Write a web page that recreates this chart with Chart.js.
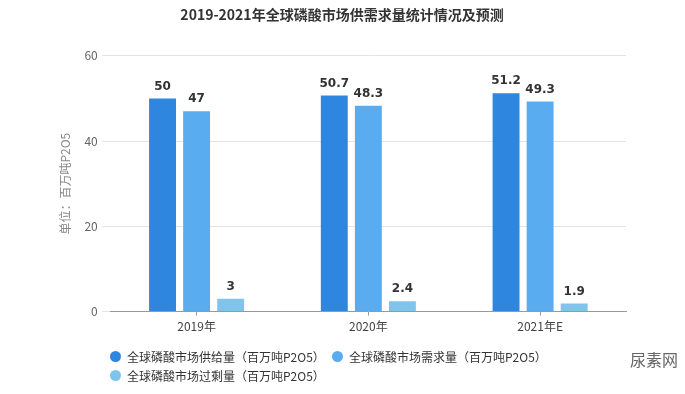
<!DOCTYPE html>
<html>
<head>
<meta charset="utf-8">
<script src="https://cdn.jsdelivr.net/npm/chart.js@4.4.0/dist/chart.umd.min.js"></script>
<style>
  body { margin: 0; background: #fff; }
  #wrap { position: relative; width: 685px; height: 394px; }
  #legend { position: absolute; left: 110px; top: 348px; font: 12px "Noto Sans CJK SC", sans-serif; color: #333; }
  .item { position: absolute; white-space: nowrap; }
  .dot { position: absolute; width: 11px; height: 11px; border-radius: 50%; left: 0; top: 3px; }
  .txt { position: absolute; left: 17px; top: 0; }
  #mark { position: absolute; left: 630px; top: 347px; font: 16px "Noto Sans CJK SC", sans-serif; color: #666; }
</style>
</head>
<body>
<div id="wrap">
  <canvas id="chart" width="685" height="394"></canvas>
  <div id="legend"></div>
  <div id="mark">尿素网</div>
</div>
<script>
const years = ['2019年', '2020年', '2021年E'];
const supply = [50, 50.7, 51.2];
const demand = [47, 48.3, 49.3];
const surplus = [3, 2.4, 1.9];
const seriesNames = ['全球磷酸市场供给量（百万吨P2O5）', '全球磷酸市场需求量（百万吨P2O5）', '全球磷酸市场过剩量（百万吨P2O5）'];
const colors = ['#2e86de', '#5aacf0', '#7fc4ea'];

const ctx = document.getElementById('chart');

// value labels above each bar
const barLabels = {
  id: 'barLabels',
  afterDatasetsDraw(chart) {
    const c = chart.ctx;
    c.save();
    c.font = 'bold 12px "DejaVu Sans", sans-serif';
    c.fillStyle = '#333';
    c.textAlign = 'center';
    c.textBaseline = 'bottom';
    chart.data.datasets.forEach((ds, i) => {
      chart.getDatasetMeta(i).data.forEach((bar, j) => {
        c.fillText(String(ds.data[j]), bar.x, bar.y - 6);
      });
    });
    c.restore();
  }
};

const config = {
  type: 'bar',
  data: {
    labels: years,
    datasets: [
      { label: seriesNames[0], data: supply, backgroundColor: colors[0] },
      { label: seriesNames[1], data: demand, backgroundColor: colors[1] },
      { label: seriesNames[2], data: surplus, backgroundColor: colors[2] }
    ]
  },
  options: {
    responsive: false,
    animation: false,
    categoryPercentage: 0.595,
    barPercentage: 0.79,
    layout: { padding: { left: 58, right: 59, top: 0, bottom: 56 } },
    plugins: {
      legend: { display: false },
      tooltip: { enabled: false },
      title: {
        display: true,
        text: '2019-2021年全球磷酸市场供需求量统计情况及预测',
        color: '#333',
        font: { size: 14, weight: 'bold', family: '"Noto Sans CJK SC", sans-serif' },
        padding: { top: 6, bottom: 33 }
      }
    },
    scales: {
      y: {
        min: 0,
        max: 60,
        ticks: { stepSize: 20, color: '#666', padding: 4, font: { size: 12 } },
        grid: { color: '#e3e3e3', tickLength: 9 },
        border: { display: false },
        title: {
          display: true,
          text: '单位：百万吨P2O5',
          color: '#888',
          font: { size: 12, family: '"Noto Sans CJK SC", sans-serif' },
          padding: { top: 0, bottom: 8 }
        }
      },
      x: {
        ticks: { color: '#444', padding: 4, font: { size: 12, family: '"Noto Sans CJK SC", sans-serif' } },
        grid: { drawOnChartArea: false, offset: false, tickLength: 4, color: '#999' },
        border: { color: '#999' }
      }
    }
  },
  plugins: [barLabels]
};

Chart.defaults.font.family = '"Noto Sans CJK SC", sans-serif';
const chart = new Chart(ctx, config);

// html legend in the reference's layout: two items on the first row, one below
const spots = [[0, 0], [222, 0], [0, 19]];
const legend = document.getElementById('legend');
seriesNames.forEach((name, i) => {
  const el = document.createElement('div');
  el.className = 'item';
  el.style.left = spots[i][0] + 'px';
  el.style.top = spots[i][1] + 'px';
  el.innerHTML = '<span class="dot" style="background:' + colors[i] + '"></span><span class="txt">' + name + '</span>';
  legend.appendChild(el);
});
</script>
</body>
</html>
